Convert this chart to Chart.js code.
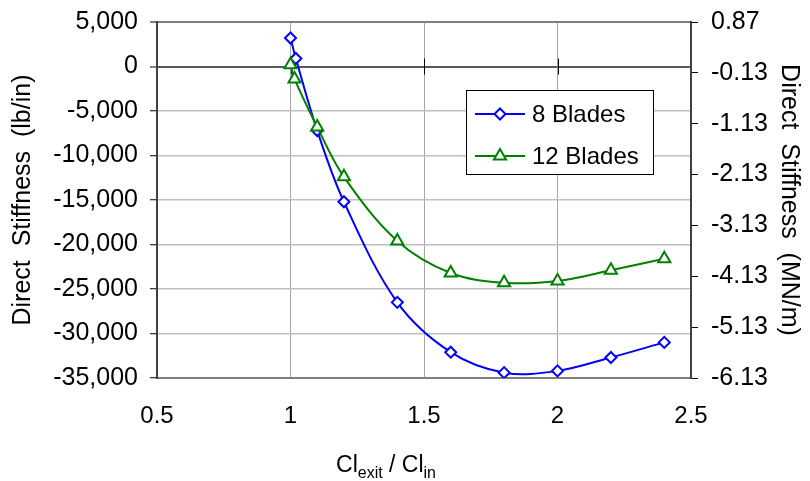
<!DOCTYPE html>
<html>
<head>
<meta charset="utf-8">
<script src="https://cdn.jsdelivr.net/npm/chart.js@4.4.1/dist/chart.umd.min.js"></script>
<style>
  body { margin: 0; background: #fff; }
</style>
</head>
<body>
<canvas id="stiffnessChart" width="810" height="481"></canvas>
<script>
// exit/inlet clearance ratio vs direct stiffness
const ratio8 = [1.0, 1.02, 1.1, 1.2, 1.4, 1.6, 1.8, 2.0, 2.2, 2.4];
const stiff8 = [3200, 900, -7200, -15200, -26500, -32100, -34400, -34200, -32700, -31000];
const ratio12 = [1.0, 1.015, 1.1, 1.2, 1.4, 1.6, 1.8, 2.0, 2.2, 2.4];
const stiff12 = [200, -1400, -6800, -12400, -19600, -23200, -24300, -24100, -22900, -21600];

const seriesNames = ['8 Blades', '12 Blades'];
const leftTicks = [5000, 0, -5000, -10000, -15000, -20000, -25000, -30000, -35000];
const rightTicks = [0.87, -0.13, -1.13, -2.13, -3.13, -4.13, -5.13, -6.13];
const xTicks = [0.5, 1, 1.5, 2, 2.5];

const FONT = 'Arial, "Liberation Sans", sans-serif';
const tickFont = { family: FONT, size: 25 };
const titleFont = { family: FONT, size: 25 };

const toPoints = (xs, ys) => xs.map((x, i) => ({ x: x, y: ys[i] }));

// fixed widths for the value axes, no extra room above/below for labels
const fitVertical = w => s => {
  s.width = w;
  s.paddingTop = 0;
  s.paddingBottom = 0;
};

// little tick marks where the x axis crosses at zero
const zeroTicks = {
  id: 'zeroTicks',
  beforeDatasetsDraw(chart) {
    const { ctx, scales: { x, y } } = chart;
    const y0 = y.getPixelForValue(0);
    ctx.save();
    ctx.strokeStyle = '#000';
    ctx.lineWidth = 1;
    xTicks.slice(1, -1).forEach(v => {
      const px = Math.round(x.getPixelForValue(v)) + 0.5;
      ctx.beginPath();
      ctx.moveTo(px, y0 - 8);
      ctx.lineTo(px, y0 + 8);
      ctx.stroke();
    });
    ctx.restore();
  }
};

function drawMarker(ctx, style, x, y, r) {
  ctx.beginPath();
  if (style === 'rectRot') {
    ctx.moveTo(x, y - r);
    ctx.lineTo(x + r, y);
    ctx.lineTo(x, y + r);
    ctx.lineTo(x - r, y);
  } else {
    ctx.moveTo(x, y - r);
    ctx.lineTo(x + r * 0.866, y + r * 0.5);
    ctx.lineTo(x - r * 0.866, y + r * 0.5);
  }
  ctx.closePath();
  ctx.fill();
  ctx.stroke();
}

// boxed legend sitting inside the plot
const boxLegend = {
  id: 'boxLegend',
  afterDraw(chart) {
    const ctx = chart.ctx;
    const bx = 466, by = 90, bw = 187, bh = 84;
    ctx.save();
    ctx.fillStyle = '#fff';
    ctx.fillRect(bx, by, bw, bh);
    ctx.strokeStyle = '#000';
    ctx.lineWidth = 1;
    ctx.strokeRect(bx + 0.5, by + 0.5, bw, bh);
    const rows = [114, 156];
    chart.data.datasets.forEach((ds, i) => {
      const ry = rows[i];
      ctx.strokeStyle = ds.borderColor;
      ctx.lineWidth = 2;
      ctx.beginPath();
      ctx.moveTo(475, ry);
      ctx.lineTo(525, ry);
      ctx.stroke();
      ctx.fillStyle = '#fff';
      drawMarker(ctx, ds.pointStyle, 500, ry, ds.pointRadius);
      ctx.fillStyle = '#000';
      ctx.font = '24px ' + FONT;
      ctx.textBaseline = 'middle';
      ctx.textAlign = 'left';
      ctx.fillText(ds.label, 532, ry + 1);
    });
    ctx.restore();
  }
};

// x axis title with subscripts: Cl_exit / Cl_in
const xTitle = {
  id: 'xTitle',
  afterDraw(chart) {
    const ctx = chart.ctx;
    const parts = [
      { t: 'Cl', size: 23, dy: 0 },
      { t: 'exit', size: 16, dy: 6 },
      { t: ' / Cl', size: 23, dy: 0 },
      { t: 'in', size: 16, dy: 6 }
    ];
    ctx.save();
    ctx.fillStyle = '#000';
    ctx.textBaseline = 'alphabetic';
    ctx.textAlign = 'left';
    let total = 0;
    parts.forEach(p => {
      ctx.font = p.size + 'px ' + FONT;
      p.w = ctx.measureText(p.t).width;
      total += p.w;
    });
    let cx = 386 - total / 2;
    const base = 472;
    parts.forEach(p => {
      ctx.font = p.size + 'px ' + FONT;
      ctx.fillText(p.t, cx, base + p.dy);
      cx += p.w;
    });
    ctx.restore();
  }
};

const ctx = document.getElementById('stiffnessChart').getContext('2d');
new Chart(ctx, {
  type: 'line',
  data: {
    datasets: [{
      label: seriesNames[0],
      data: toPoints(ratio8, stiff8),
      borderColor: '#0000ff',
      borderWidth: 2,
      pointStyle: 'rectRot',
      pointRadius: 5.5,
      pointBorderWidth: 2,
      pointBackgroundColor: '#fff',
      pointBorderColor: '#0000ff',
      tension: 0.35,
      order: 2
    }, {
      label: seriesNames[1],
      data: toPoints(ratio12, stiff12),
      borderColor: '#008000',
      borderWidth: 2,
      pointStyle: 'triangle',
      pointRadius: 7,
      pointBorderWidth: 2,
      pointBackgroundColor: '#fff',
      pointBorderColor: '#008000',
      tension: 0.35,
      order: 1
    }]
  },
  options: {
    responsive: false,
    animation: false,
    layout: { padding: { top: 22, left: 0, right: 0, bottom: 0 } },
    plugins: {
      legend: { display: false },
      tooltip: { enabled: false }
    },
    scales: {
      x: {
        type: 'linear',
        min: 0.5,
        max: 2.5,
        afterBuildTicks: s => { s.ticks = xTicks.map(v => ({ value: v })); },
        afterFit: s => { s.height = 103; },
        ticks: {
          font: { family: FONT, size: 24 },
          color: '#000',
          padding: 24,
          callback: v => String(v)
        },
        grid: {
          drawTicks: false,
          color: c => (c.tick && (c.tick.value === 0.5 || c.tick.value === 2.5)) ? 'rgba(0,0,0,0)' : '#a6a6a6',
          lineWidth: 1
        },
        border: { color: '#7f7f7f', width: 2 }
      },
      y: {
        position: 'left',
        min: -35000,
        max: 5000,
        afterBuildTicks: s => { s.ticks = leftTicks.map(v => ({ value: v })); },
        afterFit: fitVertical(157),
        ticks: {
          font: tickFont,
          color: '#000',
          padding: 12,
          callback: v => v.toLocaleString('en-US')
        },
        grid: {
          color: c => {
            if (!c.tick) return '#c0c0c0';
            if (c.tick.value === 0) return '#595959';
            if (c.tick.value === 5000 || c.tick.value === -35000) return '#7f7f7f';
            return '#c0c0c0';
          },
          lineWidth: c => (c.tick && (c.tick.value === 0 || c.tick.value === 5000)) ? 2 : 1.5,
          tickLength: 7,
          tickColor: '#000',
          tickWidth: 1
        },
        border: { color: '#404040', width: 2 },
        title: {
          display: true,
          text: 'Direct  Stiffness  (lb/in)',
          font: titleFont,
          color: '#000',
          padding: { top: 8, bottom: 0 }
        }
      },
      y2: {
        position: 'right',
        min: -6.13,
        max: 0.87,
        afterBuildTicks: s => { s.ticks = rightTicks.map(v => ({ value: v })); },
        afterFit: fitVertical(119),
        ticks: {
          font: tickFont,
          color: '#000',
          padding: 13,
          callback: v => v.toFixed(2)
        },
        grid: {
          drawOnChartArea: false,
          tickLength: 7,
          tickColor: '#000',
          tickWidth: 1
        },
        border: { color: '#404040', width: 2 },
        title: {
          display: true,
          text: 'Direct  Stiffness  (MN/m)',
          font: titleFont,
          color: '#000',
          padding: { top: 6, bottom: 0 }
        }
      }
    }
  },
  plugins: [zeroTicks, boxLegend, xTitle]
});
</script>
</body>
</html>
